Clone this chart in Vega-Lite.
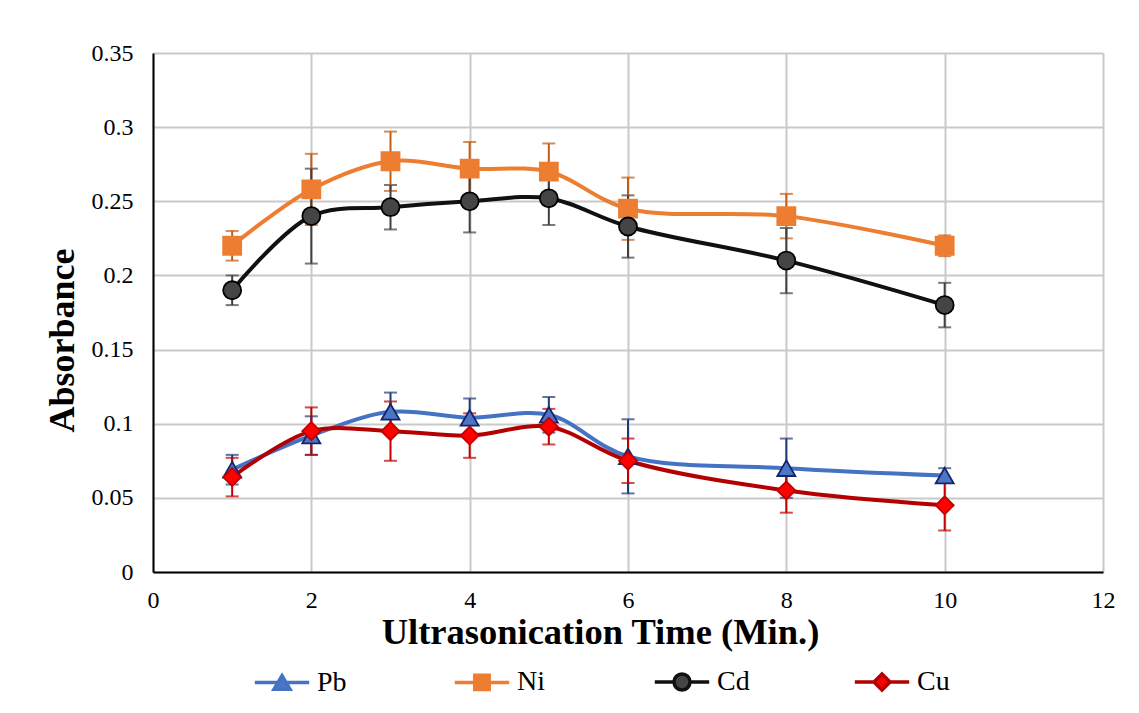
{
  "$schema": "https://vega.github.io/schema/vega-lite/v6.json",
  "width": 950,
  "height": 519,
  "autosize": {"type": "none"},
  "padding": {"left": 153, "top": 53, "right": 36, "bottom": 141},
  "background": "white",
  "config": {"view": {"stroke": null}, "font": "Liberation Serif"},
  "data": {
    "values": [
      {"series": "Pb", "t": 1, "v": 0.069, "e": 0.010},
      {"series": "Pb", "t": 2, "v": 0.092, "e": 0.013},
      {"series": "Pb", "t": 3, "v": 0.108, "e": 0.013},
      {"series": "Pb", "t": 4, "v": 0.104, "e": 0.013},
      {"series": "Pb", "t": 5, "v": 0.106, "e": 0.012},
      {"series": "Pb", "t": 6, "v": 0.078, "e": 0.025},
      {"series": "Pb", "t": 8, "v": 0.070, "e": 0.020},
      {"series": "Pb", "t": 10, "v": 0.065, "e": 0.005},
      {"series": "Ni", "t": 1, "v": 0.220, "e": 0.010},
      {"series": "Ni", "t": 2, "v": 0.258, "e": 0.024},
      {"series": "Ni", "t": 3, "v": 0.277, "e": 0.020},
      {"series": "Ni", "t": 4, "v": 0.272, "e": 0.018},
      {"series": "Ni", "t": 5, "v": 0.270, "e": 0.019},
      {"series": "Ni", "t": 6, "v": 0.245, "e": 0.021},
      {"series": "Ni", "t": 8, "v": 0.240, "e": 0.015},
      {"series": "Ni", "t": 10, "v": 0.220, "e": 0.007},
      {"series": "Cd", "t": 1, "v": 0.190, "e": 0.010},
      {"series": "Cd", "t": 2, "v": 0.240, "e": 0.032},
      {"series": "Cd", "t": 3, "v": 0.246, "e": 0.015},
      {"series": "Cd", "t": 4, "v": 0.250, "e": 0.021},
      {"series": "Cd", "t": 5, "v": 0.252, "e": 0.018},
      {"series": "Cd", "t": 6, "v": 0.233, "e": 0.021},
      {"series": "Cd", "t": 8, "v": 0.210, "e": 0.022},
      {"series": "Cd", "t": 10, "v": 0.180, "e": 0.015},
      {"series": "Cu", "t": 1, "v": 0.064, "e": 0.013},
      {"series": "Cu", "t": 2, "v": 0.095, "e": 0.016},
      {"series": "Cu", "t": 3, "v": 0.095, "e": 0.020},
      {"series": "Cu", "t": 4, "v": 0.092, "e": 0.015},
      {"series": "Cu", "t": 5, "v": 0.098, "e": 0.012},
      {"series": "Cu", "t": 6, "v": 0.075, "e": 0.015},
      {"series": "Cu", "t": 8, "v": 0.055, "e": 0.015},
      {"series": "Cu", "t": 10, "v": 0.045, "e": 0.017}
    ]
  },
  "encoding": {
    "x": {
      "field": "t",
      "type": "quantitative",
      "scale": {"domain": [0, 12], "nice": false, "zero": true},
      "axis": {
        "values": [0, 2, 4, 6, 8, 10, 12],
        "format": "d",
        "title": "Ultrasonication Time (Min.)",
        "titleFont": "Liberation Serif",
        "titleFontSize": 36.5,
        "titleFontWeight": "bold",
        "titleColor": "black",
        "titleX": 447,
        "titleY": 71,
        "titleBaseline": "alphabetic",
        "titleAlign": "center",
        "titleAnchor": null,
        "labelFont": "Liberation Serif",
        "labelFontSize": 24,
        "labelColor": "black",
        "labelPadding": 16,
        "labelFlush": false,
        "ticks": false,
        "domainColor": "black",
        "domainWidth": 2,
        "grid": true,
        "gridColor": "#c9c9c9",
        "gridWidth": 2
      }
    },
    "y": {
      "field": "v",
      "type": "quantitative",
      "scale": {"domain": [0, 0.35], "nice": false},
      "axis": {
        "values": [0, 0.05, 0.1, 0.15, 0.2, 0.25, 0.3, 0.35],
        "format": ".2~f",
        "title": "Absorbance",
        "titleFont": "Liberation Serif",
        "titleFontSize": 36,
        "titleFontWeight": "bold",
        "titleColor": "black",
        "titleX": -80,
        "titleY": 287,
        "titleAngle": 270,
        "titleBaseline": "alphabetic",
        "titleAlign": "center",
        "titleAnchor": null,
        "labelFont": "Liberation Serif",
        "labelFontSize": 24,
        "labelColor": "black",
        "labelPadding": 20,
        "labelFlush": false,
        "ticks": false,
        "domainColor": "black",
        "domainWidth": 2,
        "grid": true,
        "gridColor": "#c9c9c9",
        "gridWidth": 2
      }
    }
  },
  "layer": [
    {
      "mark": {"type": "errorbar", "ticks": {"size": 13, "thickness": 2}, "thickness": 2},
      "encoding": {
        "yError": {"field": "e"},
        "color": {
          "field": "series",
          "type": "nominal",
          "scale": {"domain": ["Pb", "Ni", "Cd", "Cu"], "range": ["#1f3a78", "#c55a11", "#404040", "#c00000"]},
          "legend": null
        }
      }
    },
    {
      "mark": {"type": "line", "interpolate": "catmull-rom", "strokeWidth": 4},
      "encoding": {
        "color": {
          "field": "series",
          "type": "nominal",
          "scale": {"domain": ["Pb", "Ni", "Cd", "Cu"], "range": ["#4472c4", "#ed7d31", "#111111", "#b30000"]},
          "legend": null
        }
      }
    },
    {
      "mark": {"type": "point", "filled": true, "size": 324, "strokeWidth": 1.8, "opacity": 1},
      "encoding": {
        "shape": {
          "field": "series",
          "type": "nominal",
          "scale": {"domain": ["Pb", "Ni", "Cd", "Cu"], "range": ["triangle-up", "square", "circle", "diamond"]},
          "legend": null
        },
        "fill": {
          "field": "series",
          "type": "nominal",
          "scale": {"domain": ["Pb", "Ni", "Cd", "Cu"], "range": ["#4a76c6", "#ed7d31", "#454545", "#ff0000"]},
          "legend": null
        },
        "stroke": {
          "field": "series",
          "type": "nominal",
          "scale": {"domain": ["Pb", "Ni", "Cd", "Cu"], "range": ["#14246a", "#ed7d31", "#000000", "#c00000"]},
          "legend": null
        }
      }
    },
    {
      "mark": {"type": "point", "filled": true, "size": 256, "strokeWidth": 4, "opacity": 0},
      "encoding": {
        "shape": {
          "field": "series",
          "type": "nominal",
          "scale": {
            "domain": ["Pb", "Ni", "Cd", "Cu"],
            "range": [
              "M-3.4,0H-0.5M0.5,0H3.4M0,-0.85L1,0.85L-1,0.85Z",
              "M-3.4,0H-0.9M0.9,0H3.4M-0.9,-0.9H0.9V0.9H-0.9Z",
              "M-3.4,0H-1M1,0H3.4M1,0A1,1,0,1,1,-1,0A1,1,0,1,1,1,0Z",
              "M-3.4,0H-1M1,0H3.4M0,-1L1,0L0,1L-1,0Z"
            ]
          },
          "legend": {
            "orient": "none",
            "legendX": 115,
            "legendY": 615,
            "direction": "horizontal",
            "title": null,
            "columns": 4,
            "gridAlign": "all",
            "columnPadding": 97,
            "symbolSize": 256,
            "symbolStrokeWidth": 3.5,
            "symbolOpacity": 1,
            "labelFont": "Liberation Serif",
            "labelFontSize": 28,
            "labelOffset": 21,
            "labelColor": "black"
          }
        },
        "fill": {
          "field": "series",
          "type": "nominal",
          "scale": {"domain": ["Pb", "Ni", "Cd", "Cu"], "range": ["#4a76c6", "#ed7d31", "#454545", "#ff0000"]}
        },
        "stroke": {
          "field": "series",
          "type": "nominal",
          "scale": {"domain": ["Pb", "Ni", "Cd", "Cu"], "range": ["#4472c4", "#ed7d31", "#111111", "#b30000"]}
        }
      }
    }
  ],
  "resolve": {"scale": {"color": "independent", "shape": "independent", "fill": "independent", "stroke": "independent"}}
}
